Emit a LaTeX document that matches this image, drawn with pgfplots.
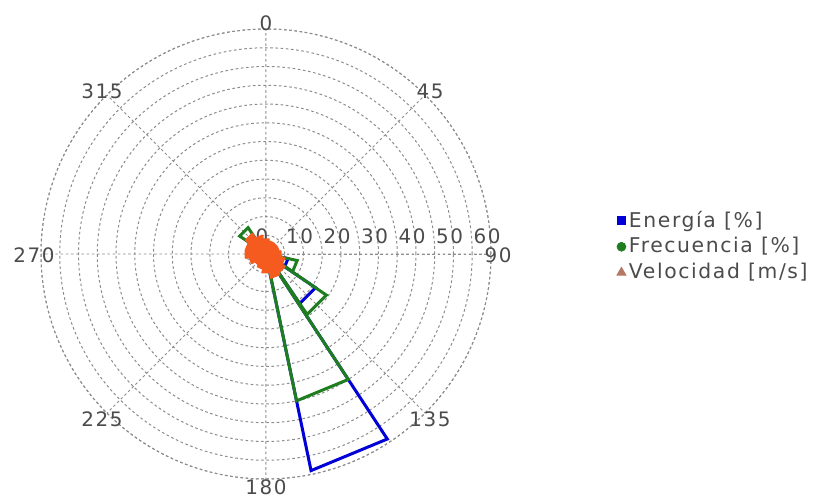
\documentclass[border=0pt]{standalone}
\usepackage{fontspec}
\setmainfont[LetterSpace=8]{DejaVu Sans}
\usepackage{pgfplots}
\usepgfplotslibrary{polar}
\pgfplotsset{compat=1.18}
\definecolor{eblue}{RGB}{0,0,215}
\definecolor{fgreen}{RGB}{30,125,30}
\definecolor{vorange}{RGB}{245,90,30}
\definecolor{vbrown}{RGB}{180,120,100}
\definecolor{txt}{RGB}{75,75,75}
\definecolor{gridc}{RGB}{140,140,140}
\begin{document}
\begin{tikzpicture}
\begin{polaraxis}[
  scale only axis, width=225bp, height=225bp,
  ymin=0, ymax=60,
  xtick={0,45,...,315},
  xticklabels={90,45,0,315,270,225,180,135},
  ytick={0,10,...,60},
  minor ytick={5,15,...,55},
  grid=both,
  major grid style={gridc, dash pattern=on 1.3bp off 1.3bp, line width=0.5bp},
  minor grid style={gridc, dash pattern=on 1.3bp off 1.3bp, line width=0.5bp},
  axis line style={gridc, dash pattern=on 1.3bp off 1.3bp, line width=0.5bp},
  tick style={draw=none},
  /pgf/number format/assume math mode=true,
  ticklabel style={font=\fontsize{10}{12}\selectfont, text=txt},
  xticklabel style={anchor=center, xshift={3.5bp*cos(\tick)}, yshift={3.5bp*sin(\tick)-0.75bp}},
  yticklabel style={anchor=south, xshift=-2bp, yshift=1.5bp},
  legend style={draw=none, fill=none, inner sep=0pt, at={(axis description cs:1.279,0.517)}, anchor=west,
     font=\fontsize{10.2}{12}\selectfont, text=txt, row sep=-0.3bp, cells={anchor=west},
     /tikz/every odd column/.append style={column sep=-0.5bp}},
  legend image code/.code={\draw[#1] plot coordinates {(0.12cm,0cm)};},
]
\coordinate (c) at (axis cs:0,0);
% Energia [%]
\addplot[forget plot, eblue, line width=1.5bp, line join=miter] coordinates {
 (0,0) (100.75,1) (79.25,1) (0,0)
 (78.25,0.5) (56.75,0.5) (0,0)
 (55.75,0.5) (34.25,0.5) (0,0)
 (33.25,1) (11.75,1) (0,0)
 (10.75,2) (349.25,2) (0,0)
 (348.25,6) (326.75,6) (0,0)
 (325.75,16) (304.25,16) (0,0)
 (303.25,59) (281.75,59) (0,0)
 (280.75,2) (259.25,2) (0,0)
 (258.25,0.5) (236.75,0.5) (0,0)
 (235.75,0.5) (214.25,0.5) (0,0)
 (213.25,0.5) (191.75,0.5) (0,0)
 (190.75,1) (169.25,1) (0,0)
 (168.25,1.5) (146.75,1.5) (0,0)
 (145.75,3) (124.25,3) (0,0)
 (123.25,1) (101.75,1) (0,0)
};
% Frecuencia [%]
\addplot[forget plot, fgreen, line width=1.5bp, line join=miter] coordinates {
 (0,0) (100.75,2) (79.25,2) (0,0)
 (78.25,1) (56.75,1) (0,0)
 (55.75,1) (34.25,1) (0,0)
 (33.25,1.5) (11.75,1.5) (0,0)
 (10.75,3) (349.25,3) (0,0)
 (348.25,8.5) (326.75,8.5) (0,0)
 (325.75,19.5) (304.25,19.5) (0,0)
 (303.25,40) (281.75,40) (0,0)
 (280.75,3.5) (259.25,3.5) (0,0)
 (258.25,1) (236.75,1) (0,0)
 (235.75,1) (214.25,1) (0,0)
 (213.25,1.5) (191.75,1.5) (0,0)
 (190.75,2.5) (169.25,2.5) (0,0)
 (168.25,4) (146.75,4) (0,0)
 (145.75,8.5) (124.25,8.5) (0,0)
 (123.25,3) (101.75,3) (0,0)
};
% Velocidad [m/s]
\addplot[forget plot, vorange, fill=vorange, line width=1bp, line join=round] coordinates {
 (0,0) (100.75,4) (79.25,4) (0,0)
 (78.25,3.5) (56.75,3.5) (0,0)
 (55.75,3.5) (34.25,3.5) (0,0)
 (33.25,3.5) (11.75,3.5) (0,0)
 (10.75,4) (349.25,4) (0,0)
 (348.25,5) (326.75,5) (0,0)
 (325.75,6) (304.25,6) (0,0)
 (303.25,6.5) (281.75,6.5) (0,0)
 (280.75,5) (259.25,5) (0,0)
 (258.25,4) (236.75,4) (0,0)
 (235.75,3.5) (214.25,3.5) (0,0)
 (213.25,4.5) (191.75,4.5) (0,0)
 (190.75,5.5) (169.25,5.5) (0,0)
 (168.25,5.5) (146.75,5.5) (0,0)
 (145.75,6.5) (124.25,6.5) (0,0)
 (123.25,5) (101.75,5) (0,0)
};
\addlegendimage{only marks, mark=square*, mark size=2bp, eblue}
\addlegendentry{Energía [\%]}
\addlegendimage{only marks, mark=*, mark size=2.2bp, fgreen}
\addlegendentry{Frecuencia [\%]}
\addlegendimage{only marks, mark=triangle*, mark size=2.6bp, vbrown}
\addlegendentry{Velocidad [m/s]}
\end{polaraxis}
\pgfresetboundingbox
\path[use as bounding box] (c) ++(-133bp,-121.5bp) rectangle ++(407.5bp,248.5bp);
\end{tikzpicture}
\end{document}
